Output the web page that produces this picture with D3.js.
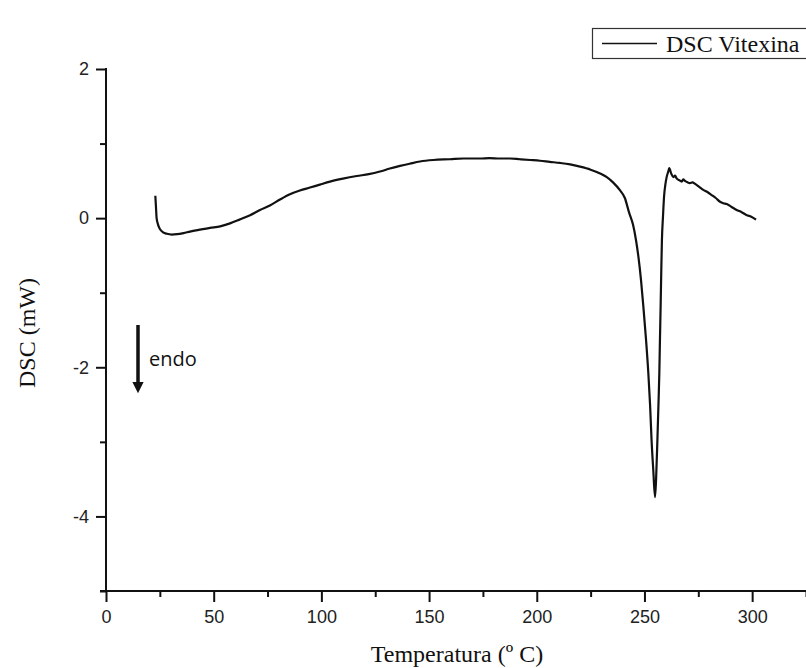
<!DOCTYPE html>
<html>
<head>
<meta charset="utf-8">
<script src="https://cdn.jsdelivr.net/npm/d3@7"></script>
<style>
  html, body { margin: 0; padding: 0; background: #fff; }
  svg { display: block; }
</style>
</head>
<body>
<svg id="chart" width="806" height="668"></svg>
<script>
// Data
const temperature = [22.9, 23.2, 23.5, 24.2, 25.1, 26.5, 28.3, 30.5, 33, 36, 39, 43.5, 48.3, 53, 57.6, 62, 66.9, 71.5, 76.1, 80.8,
  85.4, 90, 94.7, 99.3, 104, 110, 116.4, 122, 127.2, 131.8, 136.5, 141, 145.8, 152, 159.7, 166, 173.6, 178, 182.9, 187.5,
  192.2, 197, 201.5, 206, 210.8, 215.5, 220.1, 225, 229.4, 232.5, 235.4, 238.6, 240.9, 242.8, 244.7, 246.1, 247.2, 248.4, 249.5,
  250.7, 251.8, 252.6, 253.3, 254.1, 254.9, 255.4, 256.0, 256.5, 256.9, 257.2, 257.5, 257.8, 258.1, 258.6, 259.1, 259.7, 260.3, 261.0, 261.5,
  262.4, 263.4, 264.2, 265, 266.1, 267.3, 268.0, 268.8, 270, 271.1, 272.3, 273.5, 275.4, 277.3, 279.2, 281.2, 283.1, 285.1, 286.6, 288.2,
  290.5, 292.8, 295.1, 297.5, 299.6, 301.8];
const dscValues = [0.30, 0.15, 0.0, -0.09, -0.15, -0.19, -0.21, -0.22, -0.215, -0.20, -0.18, -0.155, -0.13, -0.11, -0.07, -0.02, 0.04, 0.11, 0.17, 0.25,
  0.32, 0.37, 0.41, 0.45, 0.49, 0.53, 0.565, 0.59, 0.625, 0.665, 0.70, 0.73, 0.76, 0.78, 0.79, 0.80, 0.80, 0.805, 0.80, 0.80,
  0.79, 0.78, 0.77, 0.755, 0.74, 0.72, 0.69, 0.65, 0.60, 0.55, 0.48, 0.375, 0.27, 0.08, -0.09, -0.30, -0.52, -0.83, -1.19,
  -1.62, -2.08, -2.50, -2.98, -3.38, -3.74, -3.50, -2.98, -2.50, -2.08, -1.62, -1.19, -0.72, -0.30, 0.02, 0.29, 0.45, 0.55, 0.62, 0.67,
  0.60, 0.55, 0.57, 0.53, 0.51, 0.49, 0.52, 0.50, 0.48, 0.47, 0.48, 0.46, 0.42, 0.38, 0.35, 0.31, 0.27, 0.22, 0.20, 0.19,
  0.15, 0.11, 0.08, 0.04, 0.02, -0.02];
const xTicks = [0, 25, 50, 75, 100, 125, 150, 175, 200, 225, 250, 275, 300, 325];
const xTickLabels = ["0", "", "50", "", "100", "", "150", "", "200", "", "250", "", "300", ""];
const yTicks = [2, 1, 0, -1, -2, -3, -4, -5];
const yTickLabels = ["2", "", "0", "", "-2", "", "-4", ""];
const xTitle = "Temperatura (º C)";
const yTitle = "DSC (mW)";
const seriesName = "DSC Vitexina";
const annotationText = "endo";

const svg = d3.select("#chart");
const x = d3.scaleLinear().domain([0, 325]).range([106, 806]);
const y = d3.scaleLinear().domain([-5, 2]).range([591, 69]);

const data = temperature.map((t, i) => ({ t, v: dscValues[i] }));

// X axis
const xAxis = d3.axisBottom(x)
  .tickValues(xTicks)
  .tickSize(0)
  .tickFormat((d, i) => xTickLabels[i]);
const gx = svg.append("g").attr("transform", `translate(0,${y(-5)})`).call(xAxis);
gx.select(".domain").attr("stroke", "#111").attr("stroke-width", 2).attr("d", `M${x(0) - 6},0H${x(325) + 5}`);
gx.selectAll(".tick line")
  .attr("stroke", "#111").attr("stroke-width", 2)
  .attr("y2", (d, i) => xTickLabels[i] ? 11 : 6);
gx.selectAll(".tick text")
  .attr("y", 19).attr("dy", "0.71em")
  .attr("fill", "#222")
  .style("font-family", "'Liberation Sans', Arial, sans-serif")
  .style("font-size", "18px");

// Y axis
const yAxis = d3.axisLeft(y)
  .tickValues(yTicks)
  .tickSize(0)
  .tickFormat((d, i) => yTickLabels[i]);
const gy = svg.append("g").attr("transform", `translate(${x(0)},0)`).call(yAxis);
gy.select(".domain").attr("stroke", "#111").attr("stroke-width", 2).attr("d", `M0,${y(2) - 1}V${y(-5)}`);
gy.selectAll(".tick line")
  .attr("stroke", "#111").attr("stroke-width", 2)
  .attr("x2", (d, i) => yTickLabels[i] ? -10 : -6);
gy.selectAll(".tick text")
  .attr("x", -17)
  .attr("fill", "#222")
  .style("font-family", "'Liberation Sans', Arial, sans-serif")
  .style("font-size", "18px");

// Axis titles
svg.append("text")
  .attr("x", (x(0) + 806) / 2 + 1).attr("y", 662)
  .attr("text-anchor", "middle")
  .attr("fill", "#111")
  .style("font-family", "'Liberation Serif', 'Times New Roman', serif")
  .style("font-size", "24px")
  .text(xTitle);

svg.append("text")
  .attr("transform", `translate(35,${(y(2) + y(-5)) / 2 + 3}) rotate(-90)`)
  .attr("text-anchor", "middle")
  .attr("fill", "#111")
  .style("font-family", "'Liberation Serif', 'Times New Roman', serif")
  .style("font-size", "24px")
  .text(yTitle);

// Curve
const line = d3.line()
  .x(d => x(d.t))
  .y(d => y(d.v))
  .curve(d3.curveMonotoneX);
svg.append("path")
  .datum(data)
  .attr("fill", "none")
  .attr("stroke", "#111")
  .attr("stroke-width", 2.2)
  .attr("stroke-linejoin", "round")
  .attr("d", line);

// endo annotation arrow
const defs = svg.append("defs");
defs.append("marker")
  .attr("id", "arrowhead")
  .attr("viewBox", "0 0 10 10")
  .attr("refX", 0).attr("refY", 5)
  .attr("markerWidth", 3.2).attr("markerHeight", 3.2)
  .attr("markerUnits", "strokeWidth")
  .attr("orient", "auto")
  .append("path").attr("d", "M0,0L10,5L0,10Z").attr("fill", "#111");
svg.append("line")
  .attr("x1", 138).attr("y1", 325)
  .attr("x2", 138).attr("y2", 382)
  .attr("stroke", "#111").attr("stroke-width", 3.5)
  .attr("marker-end", "url(#arrowhead)");
svg.append("text")
  .attr("x", 149).attr("y", 366)
  .attr("fill", "#111")
  .style("font-family", "'Open Sans', sans-serif")
  .style("font-size", "20px")
  .text(annotationText);

// Legend
const lg = svg.append("g");
lg.append("rect")
  .attr("x", 592.5).attr("y", 28.5)
  .attr("width", 220).attr("height", 30)
  .attr("fill", "#fff").attr("stroke", "#333").attr("stroke-width", 1.2);
lg.append("line")
  .attr("x1", 602).attr("x2", 657)
  .attr("y1", 43.5).attr("y2", 43.5)
  .attr("stroke", "#111").attr("stroke-width", 1.6);
lg.append("text")
  .attr("x", 666).attr("y", 52)
  .attr("fill", "#111")
  .style("font-family", "'Liberation Serif', 'Times New Roman', serif")
  .style("font-size", "24px")
  .text(seriesName);
</script>
</body>
</html>
